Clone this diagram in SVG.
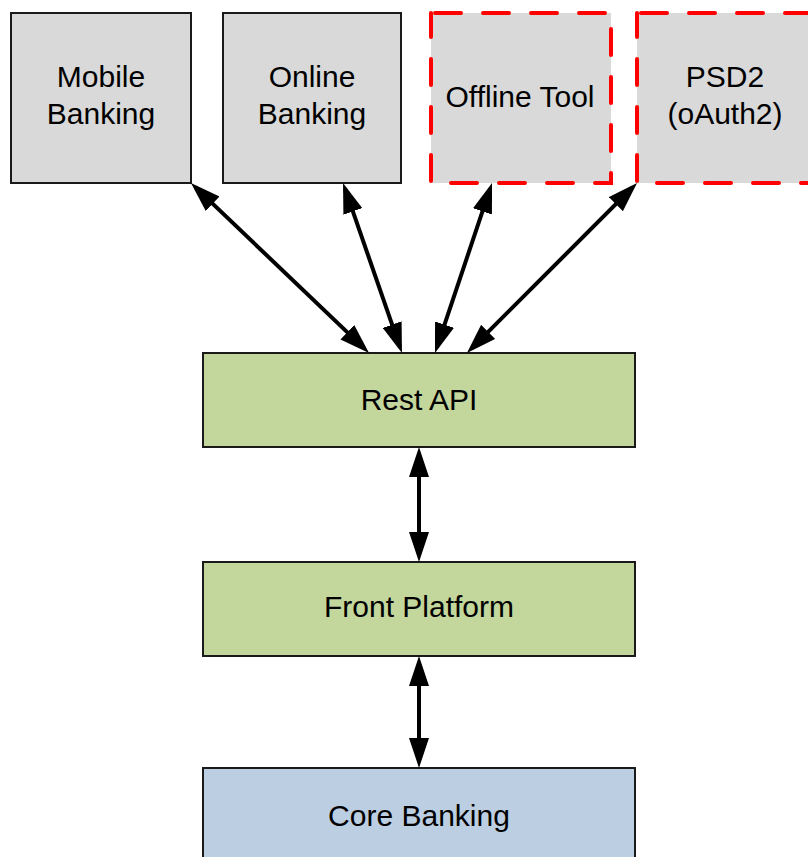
<svg xmlns="http://www.w3.org/2000/svg" width="808" height="857" viewBox="0 0 808 857">
  <defs>
    <style>
      .box { stroke: #1a1a1a; stroke-width: 2; }
      .gray { fill: #d9d9d9; }
      .green { fill: #c3d69b; }
      .blue { fill: #bccee1; }
      .dashed { fill: #d9d9d9; stroke: #ff0000; stroke-width: 4; stroke-dasharray: 26 22; stroke-linecap: round; }
      .lbl { font-family: "Liberation Sans", Arial, sans-serif; font-size: 30px; fill: #000; text-anchor: middle; }
      .conn { stroke: #000; stroke-width: 4; fill: none; marker-start: url(#ah); marker-end: url(#ah); }
    </style>
    <marker id="ah" markerUnits="userSpaceOnUse" viewBox="0 0 30 20" markerWidth="30" markerHeight="20" refX="24" refY="10" orient="auto-start-reverse">
      <path d="M0,0 L30,10 L0,20 z" fill="#000"/>
    </marker>
  </defs>

  <g id="mobile-banking">
    <rect class="box gray" x="11" y="13" width="180" height="170"/>
    <text class="lbl" x="101" y="87">Mobile</text>
    <text class="lbl" x="101" y="124">Banking</text>
  </g>

  <g id="online-banking">
    <rect class="box gray" x="223" y="13" width="178" height="170"/>
    <text class="lbl" x="312" y="87">Online</text>
    <text class="lbl" x="312" y="124">Banking</text>
  </g>

  <g id="offline-tool">
    <rect class="dashed" x="431" y="13" width="180" height="170" stroke-dashoffset="-4"/>
    <text class="lbl" x="520" y="107">Offline Tool</text>
  </g>

  <g id="psd2">
    <rect class="dashed" x="637" y="13" width="180" height="170" stroke-dashoffset="-4"/>
    <text class="lbl" x="725" y="87">PSD2</text>
    <text class="lbl" x="725" y="124">(oAuth2)</text>
  </g>

  <g id="rest-api">
    <rect class="box green" x="203" y="353" width="432" height="94"/>
    <text class="lbl" x="419" y="410">Rest API</text>
  </g>

  <g id="front-platform">
    <rect class="box green" x="203" y="562" width="432" height="94"/>
    <text class="lbl" x="419" y="617">Front Platform</text>
  </g>

  <g id="core-banking">
    <rect class="box blue" x="203" y="768" width="432" height="100"/>
    <text class="lbl" x="419" y="826">Core Banking</text>
  </g>

  <g id="connectors">
    <line class="conn" x1="195.3" y1="187.1" x2="364.7" y2="348.9"/>
    <line class="conn" x1="345" y1="188.7" x2="400" y2="347.3"/>
    <line class="conn" x1="490.1" y1="188.7" x2="436.9" y2="347.3"/>
    <line class="conn" x1="632.8" y1="187.2" x2="471.2" y2="348.8"/>
    <line class="conn" x1="419" y1="453" x2="419" y2="556"/>
    <line class="conn" x1="419" y1="662" x2="419" y2="762"/>
  </g>
</svg>
